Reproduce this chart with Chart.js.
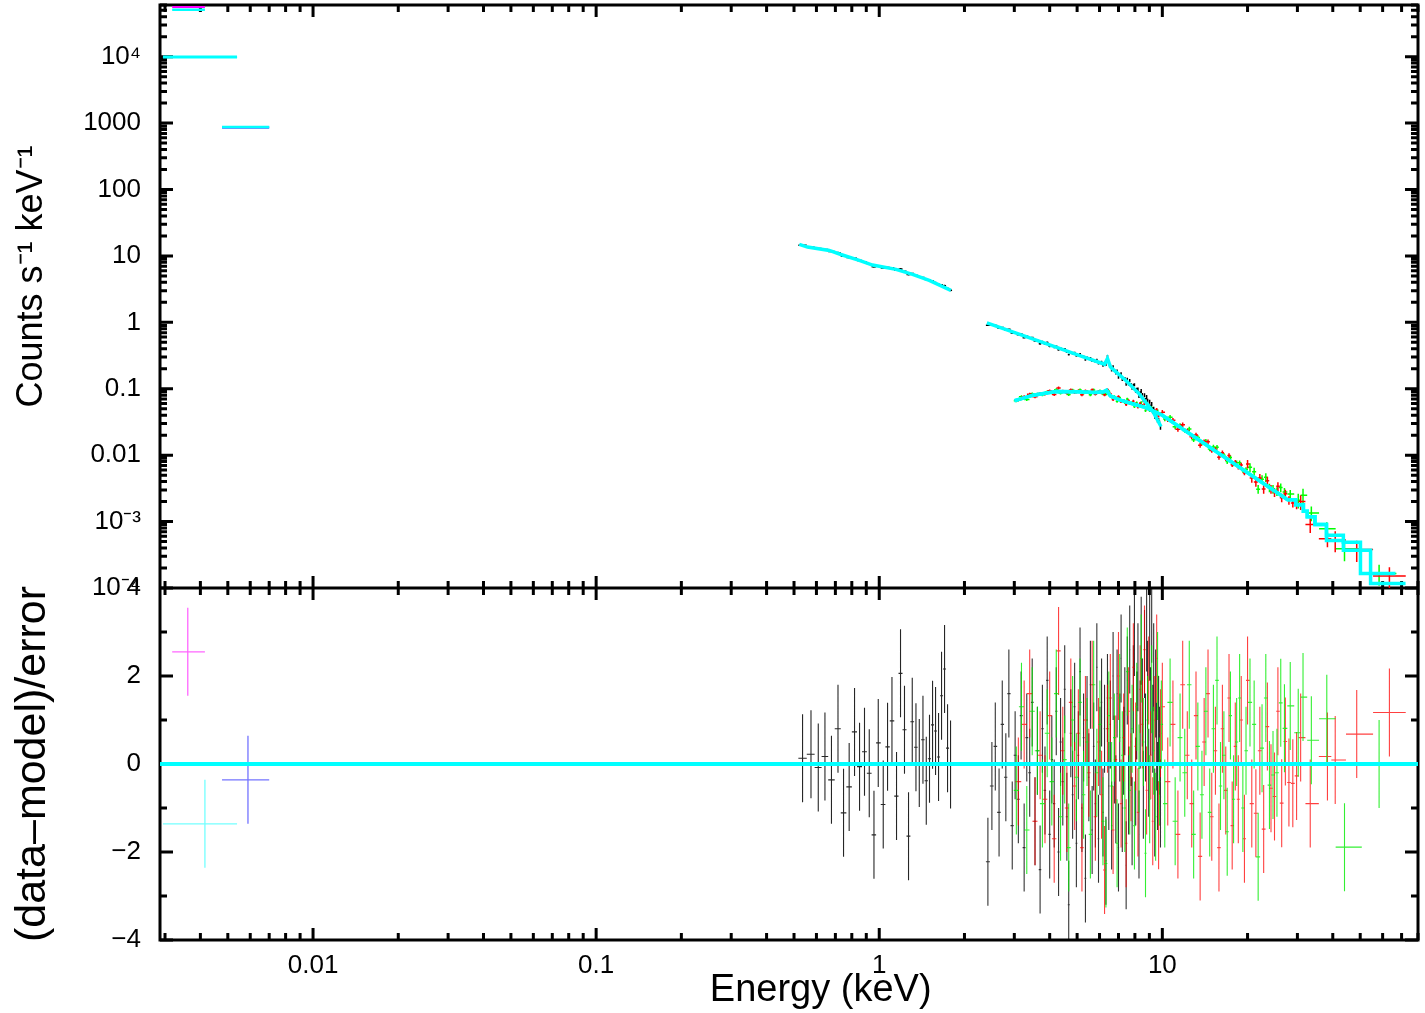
<!DOCTYPE html>
<html>
<head>
<meta charset="utf-8">
<title>Spectrum and residuals</title>
<script src="https://cdn.jsdelivr.net/npm/chart.js@4/dist/chart.umd.min.js"></script>
<style>
  html, body { margin: 0; padding: 0; background: #fff; }
  canvas { display: block; }
</style>
</head>
<body>
<canvas id="spectrum" width="1425" height="1013"></canvas>
<script>
// ---- axis ranges and tick labels ----
const energyRange = [0.00288, 80];
const countsRange = [1e-4, 6.0e4];
const residRange = [-4, 4];
const xTickValues = [0.01, 0.1, 1, 10];
const xTickLabels = ['0.01', '0.1', '1', '10'];
const yTickValues = [1e-4, 1e-3, 0.01, 0.1, 1, 10, 100, 1000, 1e4];
const yTickLabels = ['10\u207B\u2074', '10\u207B\u00B3', '0.01', '0.1', '1', '10', '100', '1000', '10\u2074'];
const rTickValues = [-4, -2, 0, 2, 4];
const rTickLabels = ['\u22124', '\u22122', '0', '2', '4'];

// ---- UV / optical filters (magenta, cyan, blue) ----
const uvE = [0.00361, 0.00415, 0.00589];
const uvLo = [0.00318, 0.00295, 0.00477];
const uvHi = [0.00415, 0.00539, 0.00700];
const uvF = [5.6e4, 9.7e3, 860];
const uvModel = [5.1e4, 1.0e4, 870];
const uvR = [2.55, -1.36, -0.36];

// ---- black, soft band ----
const bk1E = [0.536, 0.574, 0.609, 0.643, 0.678, 0.715, 0.748, 0.783, 0.818, 0.852, 0.887, 0.922, 0.958, 0.992, 1.033, 1.070, 1.109, 1.151, 1.189, 1.228, 1.269, 1.308, 1.348, 1.385, 1.427, 1.466, 1.505, 1.543, 1.581, 1.620, 1.660, 1.701, 1.743, 1.786];
const bk1F = [14.5, 13.5, 12.9, 12.5, 11.7, 11.2, 9.9, 9.45, 9.2, 8.5, 8.1, 7.55, 6.87, 7.1, 6.6, 6.7, 6.64, 6.1, 6.37, 5.88, 5.23, 5.43, 5.11, 4.85, 4.73, 4.42, 4.3, 4.18, 3.96, 3.72, 3.68, 3.57, 3.23, 3.04];
const bk1R = [0.13, 0.22, -0.08, 0.17, -0.36, 0.80, -1.11, -0.52, 0.73, -0.06, 0.28, -0.21, -1.61, 0.48, -0.92, 0.39, 0.98, -0.73, 2.06, 0.78, -1.64, 0.96, 0.38, 0.02, 0.55, -0.38, 0.12, 0.89, 0.75, 0.16, 1.55, 2.16, 0.36, -0.01];
const bk1ModelE = [0.522, 0.558, 0.666, 0.732, 0.850, 0.947, 1.146, 1.311, 1.502, 1.791];
const bk1ModelF = [14.9, 13.6, 12.1, 10.5, 8.56, 7.28, 6.27, 5.27, 4.29, 3.03];

// ---- black, 2.4-10 keV ----
const bk2E = [2.42, 2.50, 2.57, 2.65, 2.72, 2.80, 2.87, 2.95, 3.02, 3.10,
  3.17, 3.25, 3.32, 3.40, 3.47, 3.55, 3.62, 3.70, 3.77, 3.85,
  3.92, 4.00, 4.07, 4.15, 4.22, 4.30, 4.37, 4.45, 4.52, 4.60,
  4.67, 4.75, 4.82, 4.90, 4.97, 5.05, 5.12, 5.20, 5.27, 5.35,
  5.42, 5.50, 5.57, 5.65, 5.72, 5.80, 5.87, 5.95, 6.02, 6.10,
  6.17, 6.25, 6.32, 6.40, 6.47, 6.55, 6.62, 6.70, 6.77, 6.85,
  6.92, 7.00, 7.07, 7.15, 7.22, 7.30, 7.37, 7.45, 7.52, 7.60,
  7.67, 7.75, 7.82, 7.90, 7.97, 8.05, 8.12, 8.20, 8.27, 8.35,
  8.42, 8.50, 8.57, 8.65, 8.72, 8.80, 8.87, 8.95, 9.02, 9.10,
  9.17, 9.25, 9.32, 9.40, 9.47, 9.55, 9.62, 9.70, 9.77, 9.85];
const bk2F = [0.905, 0.910, 0.897, 0.819, 0.836, 0.773, 0.787, 0.691, 0.700, 0.653,
  0.668, 0.588, 0.615, 0.580, 0.589, 0.525, 0.535, 0.476, 0.511, 0.474,
  0.498, 0.435, 0.446, 0.420, 0.436, 0.385, 0.406, 0.384, 0.399, 0.357,
  0.327, 0.360, 0.338, 0.350, 0.312, 0.324, 0.335, 0.299, 0.307, 0.272,
  0.298, 0.280, 0.293, 0.260, 0.270, 0.254, 0.274, 0.239, 0.249, 0.252,
  0.225, 0.243, 0.231, 0.306, 0.244, 0.225, 0.191, 0.216, 0.189, 0.173,
  0.186, 0.149, 0.163, 0.169, 0.138, 0.142, 0.143, 0.117, 0.139, 0.118,
  0.133, 0.116, 0.102, 0.113, 0.115, 0.094, 0.097, 0.098, 0.078, 0.086,
  0.093, 0.081, 0.068, 0.080, 0.068, 0.075, 0.066, 0.055, 0.064, 0.054,
  0.059, 0.049, 0.050, 0.038, 0.042, 0.037, 0.033, 0.034, 0.031, 0.026];
const bk2R = [-2.22, -0.5, 0.4, -1.1, 0.9, -0.3, 1.6, -1.4, 0.2, -0.8,
  1.1, -1.9, 0.6, -0.2, 1.4, -1.3, 0.3, -2.4, 0.8, -0.6,
  1.9, -1.6, 0.1, -0.9, 1.2, -2.0, 0.5, -0.4, 1.7, -1.2,
  -3.2, 0.7, -0.7, 1.3, -1.8, 0.2, 2.1, -1.0, 0.6, -2.6,
  1.0, -0.3, 1.8, -1.5, 0.4, -0.9, 2.2, -1.7, 0.3, 1.4,
  -1.1, 0.8, -2.2, 1.5, -0.5, 0.9, -1.4, 2.0, 0.1, -0.8,
  1.6, -1.9, 0.6, 2.4, -1.0, 0.3, 1.2, -2.3, 1.9, -0.6,
  2.6, 0.5, -1.3, 1.7, 3.0, -0.4, 1.1, 2.2, -1.6, 0.9,
  2.8, 1.4, -0.7, 2.5, 0.6, 3.1, 1.8, -0.2, 2.9, 1.2,
  3.3, 0.8, 2.2, -1.1, 1.6, 0.4, -0.5, 1.0, 0.3, -0.9];
const bk2ModelE = [2.40, 3.10, 4.00, 5.05, 6.25, 6.40, 6.55, 6.70, 7.45, 8.30, 9.25, 9.89];
const bk2ModelF = [0.985, 0.669, 0.457, 0.322, 0.234, 0.285, 0.215, 0.196, 0.132, 0.083, 0.046, 0.027];

// ---- red, hard band ----
const redE = [3.10, 3.25, 3.40, 3.55, 3.70, 3.85, 4.00, 4.15, 4.30, 4.45, 4.60, 4.75, 4.90, 5.05, 5.20, 5.35, 5.50, 5.65, 5.80, 5.95, 6.10, 6.25, 6.40, 6.55, 6.70, 6.85, 7.00, 7.15, 7.30, 7.45, 7.60, 7.75, 7.90, 8.05, 8.20, 8.35, 8.50, 8.65, 8.80, 8.95, 9.10, 9.25, 9.40, 9.55, 9.70, 9.85,
  10.0, 10.45, 10.9, 11.35, 11.8, 12.25, 12.7, 13.15, 13.6, 14.05, 14.5, 14.95, 15.4, 15.85, 16.3, 16.75, 17.2, 17.65, 18.1, 18.55, 19.0, 19.5,
  20.0, 20.7, 21.4, 22.1, 22.8, 23.5, 24.2, 24.9, 25.6, 26.4, 27.2, 28.0, 28.9, 29.8,
  30.8, 33.3, 38.3, 40.8, 48.6, 63.4];
const redF = [0.068, 0.076, 0.083, 0.076, 0.085, 0.083, 0.093, 0.082, 0.103, 0.092, 0.086, 0.096, 0.088, 0.093, 0.081, 0.093, 0.088, 0.096, 0.083, 0.091, 0.087, 0.081, 0.097, 0.084, 0.069, 0.072, 0.076, 0.064, 0.067, 0.058, 0.066, 0.060, 0.065, 0.059, 0.053, 0.060, 0.056, 0.060, 0.050, 0.055, 0.048, 0.044, 0.047, 0.049, 0.039, 0.042,
  0.0442, 0.0343, 0.0337, 0.0245, 0.0288, 0.0231, 0.0190, 0.0202, 0.0141, 0.0160, 0.0159, 0.0118, 0.0122, 0.0093, 0.0109, 0.0089, 0.0099, 0.0072, 0.0078, 0.0066, 0.0071, 0.0054,
  0.00738, 0.00452, 0.00395, 0.00454, 0.00310, 0.00413, 0.00309, 0.00276, 0.00340, 0.00229, 0.00262, 0.00210, 0.00191, 0.00180,
  0.0020, 0.00090, 0.00055, 0.00053, 0.00038, 0.000152];
const redR = [-0.4, 0.9, 1.6, -1.3, 0.2, -0.8, 1.1, -1.7, 2.57, 0.3, -1.0, 1.4, -0.5, 0.7, -1.9, 1.0, -0.2, 1.8, -1.2, 0.5, -0.7, -2.41, 0.8, 1.5, -1.5, 0.1, 2.0, -0.9, 0.6, -1.8, 1.2, -0.3, 2.2, 0.4, -1.1, 1.7, 0.9, 2.6, -0.6, 1.9, 0.2, -1.3, 1.0, 2.4, -1.39, 0.7,
  1.3, -0.4, 0.9, -1.6, 1.8, 0.2, -0.9, 1.1, -2.1, 0.5, 1.6, -1.2, 0.3, -1.9, 0.8, -0.6, 1.5, -1.4, 0.4, -0.8, 1.0, -1.7,
  1.9, -0.9, -1.12, 0.3, -1.48, 0.85, -0.55, -0.74, 1.2, -0.89, 0.51, -0.42, -0.44, -0.27,
  0.60, -0.90, 0.17, 0.09, 0.68, 1.17];
const redModelE = [3.03, 3.5, 4.2, 5.0, 5.8, 6.2, 6.35, 6.55, 7.06, 8.0, 8.75, 10.0, 27.7, 29.6, 29.6, 31.5, 31.5, 32.5, 32.5, 34.6, 34.6, 38.0, 38.0, 43.6, 43.6, 54.4, 54.4, 72.3];
const redModelF = [0.067, 0.080, 0.091, 0.090, 0.088, 0.090, 0.095, 0.078, 0.068, 0.058, 0.052, 0.040, 0.00213, 0.00213, 0.0018, 0.0018, 0.00143, 0.00143, 0.00118, 0.00118, 0.0009, 0.0009, 0.00052, 0.00052, 0.00037, 0.00037, 0.000117, 0.000117];

// ---- green, hard band ----
const greenE = [3.05, 3.18, 3.32, 3.47, 3.62, 3.77, 3.92, 4.07, 4.22, 4.37, 4.52, 4.67, 4.82, 4.97, 5.12, 5.27, 5.42, 5.57, 5.72, 5.87, 6.02, 6.17, 6.32, 6.47, 6.62, 6.77, 6.92, 7.07, 7.22, 7.37, 7.52, 7.67, 7.82, 7.97, 8.12, 8.27, 8.42, 8.57, 8.72, 8.87, 9.02, 9.17, 9.32, 9.47, 9.62, 9.77, 9.92,
  10.2, 10.65, 11.1, 11.55, 12.0, 12.45, 12.9, 13.35, 13.8, 14.25, 14.7, 15.15, 15.6, 16.05, 16.5, 16.95, 17.4, 17.85, 18.3, 18.75, 19.25, 19.75,
  20.4, 21.1, 21.8, 22.5, 23.2, 23.9, 24.6, 25.4, 26.2, 27.0, 28.3,
  30.2, 31.4, 33.6, 38.1, 44.0, 58.3];
const greenF = [0.066, 0.076, 0.069, 0.084, 0.083, 0.081, 0.090, 0.087, 0.097, 0.086, 0.091, 0.082, 0.095, 0.089, 0.096, 0.086, 0.091, 0.081, 0.096, 0.087, 0.093, 0.084, 0.083, 0.091, 0.075, 0.076, 0.065, 0.073, 0.067, 0.062, 0.070, 0.060, 0.062, 0.054, 0.061, 0.056, 0.062, 0.055, 0.047, 0.054, 0.047, 0.052, 0.047, 0.042, 0.047, 0.041, 0.042,
  0.0351, 0.0373, 0.0268, 0.0280, 0.0236, 0.0248, 0.0171, 0.0184, 0.0153, 0.0162, 0.0124, 0.0133, 0.0132, 0.0102, 0.0100, 0.0080, 0.0092, 0.0074, 0.0077, 0.0077, 0.0059, 0.0061,
  0.00658, 0.00561, 0.00308, 0.00435, 0.00464, 0.00324, 0.00310, 0.00285, 0.00326, 0.00278, 0.00260,
  0.0021, 0.0025, 0.00135, 0.00078, 0.00039, 0.000166];
const greenR = [-0.6, 1.3, -1.5, 1.2, 0.3, -0.9, 0.7, -0.4, 1.6, -1.2, 0.1, -1.9, 1.0, -0.3, 1.4, -0.7, 0.5, -1.6, 1.8, -0.2, 0.9, -1.3, -2.26, 1.1, -0.5, 0.6, -1.8, 1.5, 0.2, -1.0, 2.1, -0.6, 0.8, -1.4, 1.3, -0.1, 2.4, 0.5, -2.03, 1.0, -0.8, 1.7, 0.3, -1.2, 2.0, -0.4, 0.9,
  -0.9, 1.4, -1.3, 0.6, -0.2, 1.8, -1.6, 0.4, -0.7, 1.2, -1.1, 0.8, 1.9, -0.5, 0.2, -1.54, 1.1, -0.8, 0.5, 1.5, -1.0, 0.3,
  1.4, 0.9, -2.11, 0.36, 1.5, -0.48, -0.25, -0.2, 1.39, 0.81, 1.32,
  0.71, 1.52, 0.54, 1.03, -1.89, 0.0];
const greenModelE = [3.0, 3.5, 4.2, 5.0, 5.8, 6.2, 6.35, 6.55, 7.06, 8.0, 8.75, 10.0, 27.7, 29.6, 29.6, 31.5, 31.5, 32.5, 32.5, 34.6, 34.6, 38.0, 38.0, 43.6, 43.6, 50.1, 50.1, 66.6];
const greenModelF = [0.066, 0.080, 0.091, 0.090, 0.088, 0.090, 0.095, 0.078, 0.068, 0.058, 0.052, 0.040, 0.00213, 0.00213, 0.0018, 0.0018, 0.00143, 0.00143, 0.00118, 0.00118, 0.0009, 0.0009, 0.00062, 0.00062, 0.00049, 0.00049, 0.000166, 0.000166];

// fractional 1-sigma errors on the counts, by upper energy of band
const blackErr = [[6, 0.03], [8, 0.05], [100, 0.07]];
const hardErr = [[10, 0.05], [20, 0.08], [30, 0.15], [40, 0.25], [100, 0.35]];
const uvErr = [[1, 0.02]];

// ---- helpers ----
function binEdges(E) {
  // channel edges from geometric midpoints between neighbours
  const mids = E.slice(1).map((e, i) => Math.sqrt(e * E[i]));
  const lo = [E[0] * E[0] / mids[0]].concat(mids);
  const hi = mids.concat([E[E.length - 1] * E[E.length - 1] / mids[mids.length - 1]]);
  return { lo, hi };
}
function errAt(bands, e) {
  return bands.find(b => e < b[0])[1];
}
function specBars(E, F, bands, lo, hi) {
  return E.map((e, i) => {
    const f = errAt(bands, e);
    return { x: e, y: F[i], xlo: lo[i], xhi: hi[i], ylo: F[i] * (1 - f), yhi: F[i] * (1 + f) };
  });
}
function residBars(E, R, lo, hi) {
  return E.map((e, i) => ({ x: e, y: R[i], xlo: lo[i], xhi: hi[i], ylo: R[i] - 1, yhi: R[i] + 1 }));
}
function dataSet(bars, color, axis, width) {
  return {
    data: bars.map(b => ({ x: b.x, y: b.y })),
    bars: bars, barColor: color, barWidth: width,
    yAxisID: axis, showLine: false, pointRadius: 0
  };
}
function modelSet(E, F, axis, width) {
  return {
    data: E.map((e, i) => ({ x: e, y: F[i] })),
    yAxisID: axis, showLine: true, borderColor: '#00ffff', borderWidth: width,
    pointRadius: 0, fill: false, tension: 0
  };
}
function logTicks(min, max) {
  const ticks = [];
  for (let p = Math.floor(Math.log10(min)); p <= Math.ceil(Math.log10(max)); p++) {
    for (let m = 1; m < 10; m++) {
      const v = m * Math.pow(10, p);
      if (v >= min * 0.999 && v <= max * 1.001) ticks.push({ value: v, major: m === 1 });
    }
  }
  return ticks;
}
function labelFor(values, labels, v) {
  const i = values.findIndex(t => Math.abs(t - v) <= Math.abs(t) * 1e-6 + 1e-12);
  return i < 0 ? '' : labels[i];
}
function noPadding(s) {
  s.paddingTop = 0; s.paddingBottom = 0; s.paddingLeft = 0; s.paddingRight = 0;
}

const bk1 = binEdges(bk1E), bk2 = binEdges(bk2E), red = binEdges(redE), grn = binEdges(greenE);

const datasets = [];
const uvColors = ['#ff00ff', '#00ffff', '#0000ff'];
const uvResColors = ['rgba(255,0,255,0.6)', 'rgba(0,255,255,0.55)', 'rgba(0,0,255,0.55)'];

// models first so they sit on top of the data
datasets.push(modelSet(energyRange, [0, 0], 'yRes', 4));
datasets.push(modelSet(bk1ModelE, bk1ModelF, 'yTop', 3.5));
datasets.push(modelSet(bk2ModelE, bk2ModelF, 'yTop', 3.5));
datasets.push(modelSet(redModelE, redModelF, 'yTop', 3.5));
datasets.push(modelSet(greenModelE, greenModelF, 'yTop', 3.5));
uvE.forEach((e, i) => datasets.push(modelSet([uvLo[i], uvHi[i]], [uvModel[i], uvModel[i]], 'yTop', 2.5)));

uvE.forEach((e, i) => {
  datasets.push(dataSet(specBars([e], [uvF[i]], uvErr, [uvLo[i]], [uvHi[i]]), uvColors[i], 'yTop', 2));
  datasets.push(dataSet(residBars([e], [uvR[i]], [uvLo[i]], [uvHi[i]]), uvResColors[i], 'yRes', 1.3));
});

datasets.push(dataSet(specBars(bk1E, bk1F, blackErr, bk1.lo, bk1.hi), '#000000', 'yTop', 1.5));
datasets.push(dataSet(specBars(bk2E, bk2F, blackErr, bk2.lo, bk2.hi), '#000000', 'yTop', 1.5));
datasets.push(dataSet(specBars(redE, redF, hardErr, red.lo, red.hi), '#ff0000', 'yTop', 1.5));
datasets.push(dataSet(specBars(greenE, greenF, hardErr, grn.lo, grn.hi), '#00ff00', 'yTop', 1.5));

datasets.push(dataSet(residBars(greenE, greenR, grn.lo, grn.hi), 'rgba(0,235,0,0.8)', 'yRes', 1.1));
datasets.push(dataSet(residBars(redE, redR, red.lo, red.hi), 'rgba(255,0,0,0.75)', 'yRes', 1.1));
datasets.push(dataSet(residBars(bk1E, bk1R, bk1.lo, bk1.hi), 'rgba(0,0,0,0.85)', 'yRes', 1.1));
datasets.push(dataSet(residBars(bk2E, bk2R, bk2.lo, bk2.hi), 'rgba(0,0,0,0.8)', 'yRes', 1.1));

// box round both panels, with inward ticks on every side (drawn under the data)
const frame = {
  id: 'frame',
  beforeDatasetsDraw(chart) {
    const { ctx, chartArea: a } = chart;
    const x = chart.scales.x, yTop = chart.scales.yTop, yRes = chart.scales.yRes;
    ctx.save();
    ctx.strokeStyle = '#000';
    ctx.lineWidth = 3;
    ctx.strokeRect(a.left, a.top, a.right - a.left, a.bottom - a.top);
    ctx.beginPath();
    ctx.moveTo(a.left, yTop.bottom);
    ctx.lineTo(a.right, yTop.bottom);
    ctx.stroke();
    ctx.beginPath();
    x.ticks.forEach(t => {
      const px = x.getPixelForValue(t.value);
      const len = t.major ? 12 : 7;
      [[yTop.top, 1], [yTop.bottom, -1], [yRes.top, 1], [yRes.bottom, -1]].forEach(([py, d]) => {
        ctx.moveTo(px, py);
        ctx.lineTo(px, py + d * len);
      });
    });
    [yTop, yRes].forEach(s => s.ticks.forEach(t => {
      const py = s.getPixelForValue(t.value);
      const len = t.major ? 13 : 7;
      ctx.moveTo(a.left, py); ctx.lineTo(a.left + len, py);
      ctx.moveTo(a.right, py); ctx.lineTo(a.right - len, py);
    }));
    ctx.stroke();
    ctx.restore();
  }
};

// error crosses, drawn under the datasets and clipped to their own panel
const errorBars = {
  id: 'errorBars',
  beforeDatasetsDraw(chart) {
    const ctx = chart.ctx, xs = chart.scales.x, area = chart.chartArea;
    // reverse so the earlier data sets end up on top, like the datasets
    chart.data.datasets.slice().reverse().forEach(ds => {
      if (!ds.bars) return;
      const ys = chart.scales[ds.yAxisID];
      ctx.save();
      ctx.beginPath();
      ctx.rect(area.left, ys.top, area.right - area.left, ys.bottom - ys.top);
      ctx.clip();
      ctx.strokeStyle = ds.barColor;
      ctx.lineWidth = ds.barWidth;
      ctx.beginPath();
      ds.bars.forEach(b => {
        const px = xs.getPixelForValue(b.x), py = ys.getPixelForValue(b.y);
        ctx.moveTo(xs.getPixelForValue(b.xlo), py);
        ctx.lineTo(xs.getPixelForValue(b.xhi), py);
        ctx.moveTo(px, ys.getPixelForValue(b.ylo));
        ctx.lineTo(px, ys.getPixelForValue(b.yhi));
      });
      ctx.stroke();
      ctx.restore();
    });
  }
};

Chart.defaults.font.family = '"Liberation Sans", Arial, Helvetica, sans-serif';
Chart.defaults.color = '#000';

const tickFont = { size: 26 };

new Chart(document.getElementById('spectrum'), {
  type: 'scatter',
  data: { datasets },
  options: {
    responsive: false,
    animation: false,
    events: [],
    layout: { padding: { top: 5, right: 7, left: 0, bottom: 0 } },
    plugins: { legend: { display: false }, tooltip: { enabled: false } },
    scales: {
      x: {
        type: 'logarithmic',
        min: energyRange[0], max: energyRange[1],
        grid: { display: false, drawTicks: false }, border: { display: false },
        afterBuildTicks: s => { s.ticks = logTicks(energyRange[0], energyRange[1]); },
        afterFit: s => { s.height = 73; noPadding(s); },
        ticks: {
          autoSkip: false, maxRotation: 0, minRotation: 0, padding: 10, font: tickFont,
          callback: v => labelFor(xTickValues, xTickLabels, v)
        },
        title: { display: true, text: '      Energy (keV)', font: { size: 38 }, padding: { top: 0, bottom: 0 } }
      },
      yRes: {
        axis: 'y', type: 'linear', position: 'left', stack: 'panels', stackWeight: 352,
        min: residRange[0], max: residRange[1],
        grid: { display: false, drawTicks: false }, border: { display: false },
        afterBuildTicks: s => {
          const t = [];
          for (let v = residRange[0]; v <= residRange[1]; v++) t.push({ value: v, major: v % 2 === 0 });
          s.ticks = t;
        },
        afterFit: s => { s.width = 160; noPadding(s); },
        ticks: { autoSkip: false, padding: 19, font: tickFont, callback: v => labelFor(rTickValues, rTickLabels, v) },
        title: { display: true, text: '(data\u2013model)/error', font: { size: 43 }, padding: { top: 7, bottom: 0 } }
      },
      yTop: {
        axis: 'y', type: 'logarithmic', position: 'left', stack: 'panels', stackWeight: 583,
        min: countsRange[0], max: countsRange[1],
        grid: { display: false, drawTicks: false }, border: { display: false },
        afterBuildTicks: s => { s.ticks = logTicks(countsRange[0], countsRange[1]); },
        afterFit: s => { s.width = 160; noPadding(s); },
        ticks: { autoSkip: false, padding: 19, font: tickFont, callback: v => labelFor(yTickValues, yTickLabels, v) },
        title: { display: true, text: '    Counts s\u207B\u00B9 keV\u207B\u00B9', font: { size: 36 }, padding: { top: 10, bottom: 0 } }
      }
    }
  },
  plugins: [frame, errorBars]
});
</script>
</body>
</html>
